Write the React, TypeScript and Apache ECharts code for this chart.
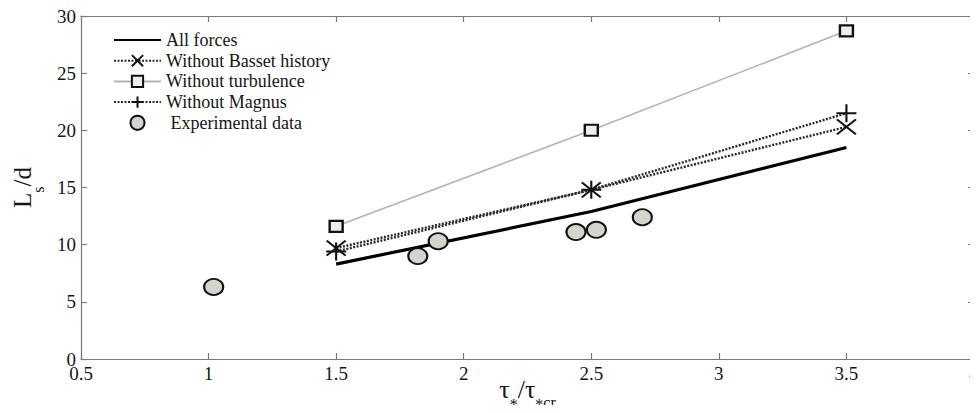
import React, { useEffect, useRef } from "react";
import * as echarts from "echarts";

// Shields-stress ratio where the simulations were run
const shearRatio = [1.5, 2.5, 3.5];
// Simulated saltation length L_s/d for each force configuration
const allForces = [8.3, 12.9, 18.5];
const withoutBasset = [9.7, 14.8, 20.3];
const withoutTurbulence = [11.6, 20.0, 28.7];
const withoutMagnus = [9.4, 14.8, 21.5];
// Measurements
const expShear = [1.02, 1.82, 1.9, 2.44, 2.52, 2.7];
const expLength = [6.3, 9.0, 10.3, 11.1, 11.3, 12.4];

const seriesNames = [
  "All forces",
  "Without Basset history",
  "Without turbulence",
  "Without Magnus",
  " Experimental data",
];

const SERIF = "Liberation Serif";
const CROSS = "path://M0,0L10,10M10,0L0,10";
const PLUS = "path://M5,0L5,10M0,5L10,5";

const pairs = (xs: number[], ys: number[]) => xs.map((x, i) => [x, ys[i]]);

const axisLineStyle = { color: "#7a7a7a", width: 1.2 };

// Rich-text pieces for the axis titles (main glyphs and lowered subscripts)
const mainStyle = (size: number) => ({
  fontFamily: SERIF,
  fontSize: size,
  lineHeight: size,
  verticalAlign: "top",
  color: "#151515",
});
const subStyle = (size: number, drop: number) => ({
  fontFamily: SERIF,
  fontSize: size,
  lineHeight: size,
  verticalAlign: "top",
  padding: [drop, 0, 0, 0],
  color: "#151515",
});

function xAxisDef(position: "top" | "bottom", labels: boolean) {
  return {
    type: "value",
    position,
    min: 0.5,
    max: 4,
    interval: 0.5,
    name: labels ? "{m|τ}{a|*}{m|/τ}{a|*}{s|cr}" : "",
    nameLocation: "middle",
    nameGap: 17,
    nameMoveOverlap: false,
    nameTextStyle: {
      fontFamily: SERIF,
      fontSize: 26,
      color: "#151515",
      verticalAlign: "top",
      rich: { m: mainStyle(26), a: subStyle(16, 20), s: subStyle(16, 18) },
    },
    axisLine: { show: true, onZero: false, lineStyle: axisLineStyle },
    axisTick: { show: true, inside: true, length: 6, lineStyle: axisLineStyle },
    axisLabel: {
      show: labels,
      margin: 5,
      color: "#151515",
      fontFamily: SERIF,
      fontSize: 19,
    },
    splitLine: { show: false },
  };
}

function yAxisDef(position: "left" | "right", labels: boolean) {
  return {
    type: "value",
    position,
    min: 0,
    max: 30,
    interval: 5,
    name: labels ? "{m|L}{s|s}{m|/d}" : "",
    nameLocation: "middle",
    nameRotate: 90,
    nameGap: 37,
    nameTextStyle: {
      fontFamily: SERIF,
      fontSize: 25,
      color: "#151515",
      rich: { m: mainStyle(25), s: subStyle(16, 20) },
    },
    axisLine: { show: true, onZero: false, lineStyle: axisLineStyle },
    axisTick: { show: true, inside: true, length: 6, lineStyle: axisLineStyle },
    axisLabel: {
      show: labels,
      margin: 5,
      color: "#151515",
      fontFamily: SERIF,
      fontSize: 19,
    },
    splitLine: { show: false },
  };
}

export default function App() {
  const ref = useRef<HTMLDivElement>(null);

  useEffect(() => {
    if (!ref.current) return;
    const chart = echarts.init(ref.current, null, { renderer: "svg" });

    chart.setOption({
      animation: false,
      backgroundColor: "#ffffff",
      grid: {
        left: 81,
        right: 4,
        top: 16,
        bottom: 54,
        containLabel: false,
        outerBoundsMode: "none",
      },
      xAxis: [xAxisDef("bottom", true), xAxisDef("top", false)],
      yAxis: [yAxisDef("left", true), yAxisDef("right", false)],
      legend: {
        orient: "vertical",
        left: 113,
        top: 31,
        padding: 0,
        itemWidth: 47,
        itemHeight: 14,
        itemGap: 2.7,
        data: seriesNames,
        textStyle: { fontFamily: SERIF, fontSize: 18, color: "#151515" },
      },
      series: [
        {
          name: seriesNames[0],
          type: "line",
          data: pairs(shearRatio, allForces),
          symbol: "none",
          lineStyle: { color: "#000000", width: 3.2 },
          itemStyle: { color: "rgba(0,0,0,0)", borderWidth: 0 },
          z: 2,
        },
        {
          name: seriesNames[1],
          type: "line",
          data: pairs(shearRatio, withoutBasset),
          symbol: CROSS,
          symbolSize: [19, 15],
          lineStyle: { color: "#2a2a2a", width: 2.4, type: [2, 1.5] },
          itemStyle: { color: "#111111", borderColor: "#111111", borderWidth: 2 },
          z: 3,
        },
        {
          name: seriesNames[2],
          type: "line",
          data: pairs(shearRatio, withoutTurbulence),
          symbol: "rect",
          symbolSize: [13, 11],
          lineStyle: { color: "#b4b4b4", width: 1.6 },
          itemStyle: { color: "#eeeeee", borderColor: "#111111", borderWidth: 2.2 },
          z: 3,
        },
        {
          name: seriesNames[3],
          type: "line",
          data: pairs(shearRatio, withoutMagnus),
          symbol: PLUS,
          symbolSize: [20, 18],
          lineStyle: { color: "#2a2a2a", width: 2.4, type: [2, 1.5] },
          itemStyle: { color: "#111111", borderColor: "#111111", borderWidth: 2 },
          z: 3,
        },
        {
          name: seriesNames[4],
          type: "scatter",
          data: pairs(expShear, expLength),
          symbol: "circle",
          symbolSize: [19, 16],
          itemStyle: { color: "#d4d4cf", borderColor: "#111111", borderWidth: 2, opacity: 1 },
          z: 4,
        },
      ],
    });

    return () => chart.dispose();
  }, []);

  return <div ref={ref} style={{ width: 978, height: 413, margin: -8 }} />;
}
